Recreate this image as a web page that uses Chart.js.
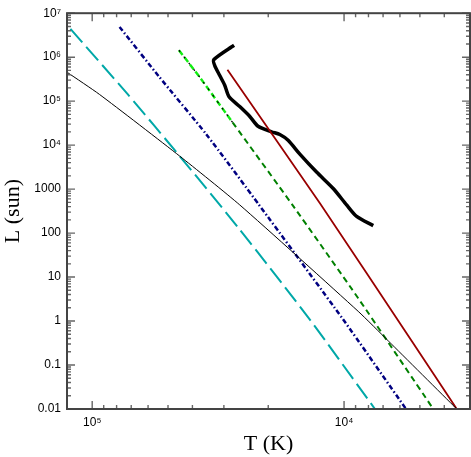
<!DOCTYPE html>
<html>
<head>
<meta charset="utf-8">
<script src="https://cdn.jsdelivr.net/npm/chart.js@4.4.1/dist/chart.umd.min.js"></script>
<style>
  html, body { margin: 0; padding: 0; background: #fff; }
  canvas { display: block; }
</style>
</head>
<body>
<canvas id="hrChart" width="471" height="457"></canvas>
<script>
// axis ranges and labelled ticks
const xRange = [3162, 125900];
const yRange = [0.01, 1e7];
const xMajor = [1e4, 1e5];
const xMajorLabels = ['10⁴', '10⁵'];
const yMajor = [0.01, 0.1, 1, 10, 100, 1000, 1e4, 1e5, 1e6, 1e7];
const yMajorLabels = ['0.01', '0.1', '1', '10', '100', '1000', '10⁴', '10⁵', '10⁶', '10⁷'];

// long dashed cyan
const cyanT = [122000, 72160, 44960, 25950, 13670, 7540];
const cyanL = [4.4e6, 1.42e5, 5645, 120.6, 1.08, 0.01];
// dash-dot navy
const blueT = [77860, 54480, 35200, 21750, 10080, 5677];
const blueL = [4.86e6, 3.71e5, 1.75e4, 437, 1.08, 0.01];
// dashed green, upper part is lime/black
const limeT = [45250, 37430, 27670];
const limeL = [1.44e6, 3.52e5, 3.25e4];
const greenT = [27670, 15930, 8785, 4422];
const greenL = [3.25e4, 415, 3.29, 0.01];
// dark red solid
const redT = [29040, 12470, 5387, 3568];
const redL = [5.16e5, 477, 0.354, 0.01];
// thin black
const thinT = [125900, 93500, 44960, 25950, 8785, 6675, 3568];
const thinL = [4.56e5, 1.42e5, 5645, 437, 1.66, 0.354, 0.01];
// thick black track
const trackT = [27340, 32920, 32620, 31160, 29770, 28620, 25950, 23670, 21950, 19420, 17990, 16680, 14980, 12860, 11040, 9770, 8915, 7658];
const trackL = [1.87e6, 8.76e5, 6.43e5, 3.84e5, 2.30e5, 1.26e5, 7.52e4, 4.49e4, 2.69e4, 2.01e4, 1.75e4, 1.29e4, 6255, 2440, 1033, 437, 240, 148];

const pts = (T, L) => T.map((t, i) => ({ x: t, y: L[i] }));

function line(T, L, color, width, dash, tension) {
    return {
        data: pts(T, L),
        showLine: true,
        borderColor: color,
        borderWidth: width,
        borderDash: dash || [],
        pointRadius: 0,
        tension: tension || 0,
        fill: false
    };
}

// inward tick marks on all four sides, IDL style
const frameTicks = {
    id: 'frameTicks',
    afterDraw(chart) {
        const { ctx, chartArea: a, scales } = chart;
        const logTicks = (lo, hi) => {
            let out = [];
            for (let d = Math.floor(Math.log10(lo)); d <= Math.floor(Math.log10(hi)); d++) {
                for (let k = 1; k <= 9; k++) {
                    let v = k * Math.pow(10, d);
                    if (v >= lo * 0.999 && v <= hi * 1.001) out.push({ v: v, major: k == 1 });
                }
            }
            return out;
        };
        ctx.save();
        ctx.strokeStyle = '#666';
        ctx.lineWidth = 1.4;
        ctx.beginPath();
        logTicks(xRange[0], xRange[1]).forEach(t => {
            let px = scales.x.getPixelForValue(t.v);
            let len = t.major ? 8 : 4;
            ctx.moveTo(px, a.bottom); ctx.lineTo(px, a.bottom - len);
            ctx.moveTo(px, a.top); ctx.lineTo(px, a.top + len);
        });
        logTicks(yRange[0], yRange[1]).forEach(t => {
            let py = scales.y.getPixelForValue(t.v);
            let len = t.major ? 8 : 4;
            ctx.moveTo(a.left, py); ctx.lineTo(a.left + len, py);
            ctx.moveTo(a.right, py); ctx.lineTo(a.right - len, py);
        });
        ctx.stroke();
        ctx.strokeStyle = '#444';
        ctx.lineWidth = 2;
        ctx.strokeRect(a.left, a.top, a.right - a.left, a.bottom - a.top);
        ctx.restore();
    }
};

const labelFont = { family: 'Liberation Sans', size: 12 };
const titleFont = { family: 'Liberation Serif', size: 22 };

new Chart(document.getElementById('hrChart'), {
    type: 'scatter',
    data: {
        datasets: [
            line(thinT, thinL, '#000000', 1, null, 0.2),
            line(cyanT, cyanL, '#00a8a8', 2, [18, 6], 0.2),
            line(blueT, blueL, '#000080', 2.5, [5, 2.5, 1.5, 2.5], 0.2),
            line(limeT, limeL, '#000000', 1.2, [2, 6], 0),
            line(limeT, limeL, '#11ee11', 2.4, [6, 3], 0),
            line(greenT, greenL, '#008000', 2, [6, 4], 0.2),
            line(redT, redL, '#990000', 1.8, null, 0.1),
            line(trackT, trackL, '#000000', 3.5, null, 0.25)
        ]
    },
    options: {
        responsive: false,
        animation: false,
        layout: { padding: { top: 7, right: 1, left: 0, bottom: 0 } },
        plugins: { legend: { display: false }, tooltip: { enabled: false } },
        scales: {
            x: {
                type: 'logarithmic',
                reverse: true,
                min: xRange[0],
                max: xRange[1],
                grid: { display: false, drawTicks: false },
                border: { display: false },
                afterBuildTicks: s => { s.ticks = xMajor.map(v => ({ value: v })); },
                afterFit: s => { s.height = 48; },
                ticks: {
                    autoSkip: false,
                    maxRotation: 0,
                    padding: 6,
                    color: '#000',
                    font: labelFont,
                    callback: v => { let i = xMajor.indexOf(v); return i < 0 ? '' : xMajorLabels[i]; }
                },
                title: { display: true, text: 'T (K)', color: '#000', font: titleFont, padding: { top: 0, bottom: 0 } }
            },
            y: {
                type: 'logarithmic',
                min: yRange[0],
                max: yRange[1],
                grid: { display: false, drawTicks: false },
                border: { display: false },
                afterBuildTicks: s => { s.ticks = yMajor.map(v => ({ value: v })); },
                afterFit: s => { s.width = 67; },
                ticks: {
                    autoSkip: false,
                    padding: 6,
                    color: '#000',
                    font: labelFont,
                    callback: v => { let i = yMajor.indexOf(v); return i < 0 ? '' : yMajorLabels[i]; }
                },
                title: { display: true, text: 'L (sun)', color: '#000', font: titleFont, padding: { top: 0, bottom: 0 } }
            }
        }
    },
    plugins: [frameTicks]
});
</script>
</body>
</html>
